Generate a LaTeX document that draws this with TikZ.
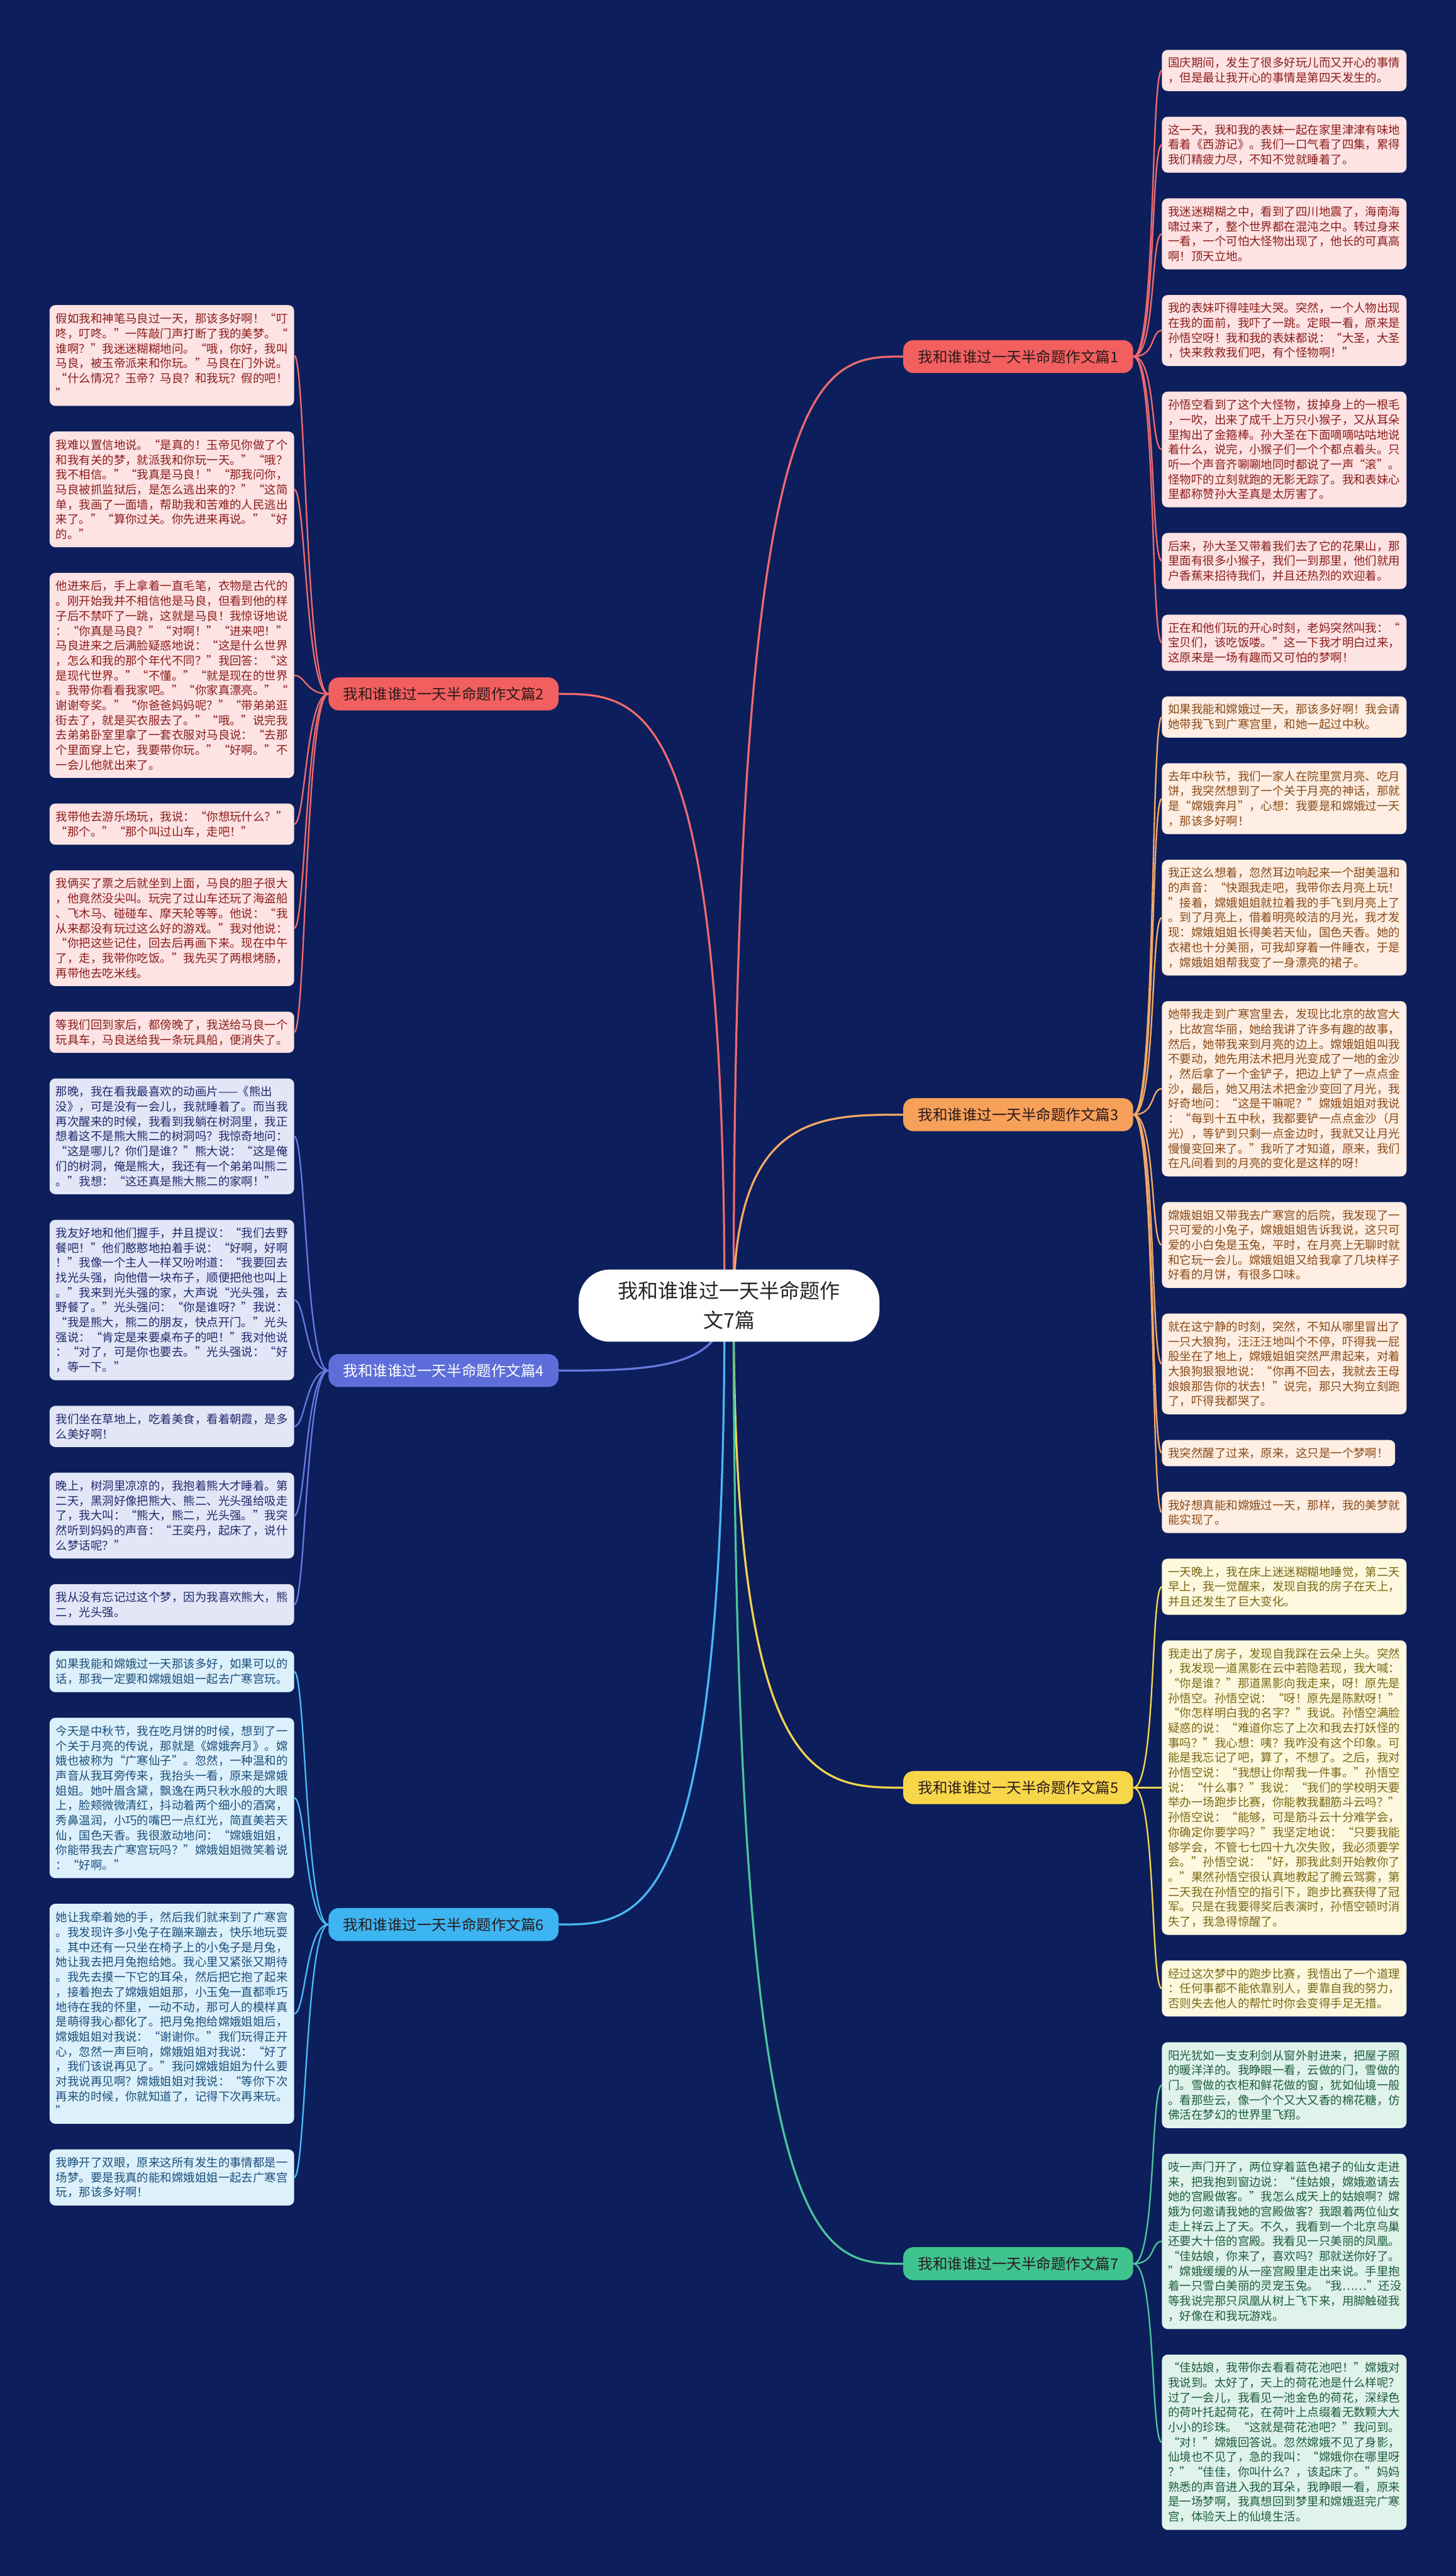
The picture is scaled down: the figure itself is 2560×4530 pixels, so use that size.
\documentclass[tikz,border=0pt]{standalone}
\usepackage{fontspec}
\newfontfamily\cjk{Noto Sans CJK SC}
\usetikzlibrary{calc}
\definecolor{bg}{HTML}{0C1E5B}
\definecolor{redlab}{HTML}{F25F5F}
\definecolor{redleaf}{HTML}{FDE3E3}
\definecolor{redtxt}{HTML}{8C1C1C}
\definecolor{redln}{HTML}{EE6A6E}
\definecolor{orlab}{HTML}{F7A05A}
\definecolor{orleaf}{HTML}{FEEEE3}
\definecolor{ortxt}{HTML}{8A4A17}
\definecolor{orln}{HTML}{F4A867}
\definecolor{yelab}{HTML}{F8D64A}
\definecolor{yeleaf}{HTML}{FEF8DE}
\definecolor{yetxt}{HTML}{7A6814}
\definecolor{yeln}{HTML}{F4D550}
\definecolor{grlab}{HTML}{3FC48F}
\definecolor{grleaf}{HTML}{DFF3EB}
\definecolor{grtxt}{HTML}{1E5B40}
\definecolor{grln}{HTML}{4BC59B}
\definecolor{inlab}{HTML}{5D6DD9}
\definecolor{inleaf}{HTML}{E3E6F7}
\definecolor{intxt}{HTML}{1F2A6C}
\definecolor{inln}{HTML}{6878E0}
\definecolor{bllab}{HTML}{3DB5F2}
\definecolor{blleaf}{HTML}{DDF1FC}
\definecolor{bltxt}{HTML}{1B4E7B}
\definecolor{blln}{HTML}{4AB9F3}
\definecolor{labtxt}{HTML}{2A1A1A}
\begin{document}
\begin{tikzpicture}[x=1pt,y=-1pt,
  leaf/.style={rounded corners=10pt, inner xsep=11pt, inner ysep=0pt, text width=408pt, align=left,
    font={\cjk\fontsize{20.4}{26.2}\selectfont}, anchor=north west},
  nl/.style={minimum height=26.2*#1+20},
  redbox/.style={leaf, fill=redleaf, text=redtxt},
  orbox/.style={leaf, fill=orleaf, text=ortxt},
  yebox/.style={leaf, fill=yeleaf, text=yetxt},
  grbox/.style={leaf, fill=grleaf, text=grtxt},
  inbox/.style={leaf, fill=inleaf, text=intxt},
  blbox/.style={leaf, fill=blleaf, text=bltxt},
  blabel/.style={rounded corners=18pt, inner xsep=26pt, inner ysep=0pt, minimum height=58pt,
    font={\cjk\fontsize{26}{30}\selectfont}},
  twig/.style={line width=2.6pt},
  limb/.style={line width=3.6pt},
  ctrnode/.style={fill=white, rounded corners=55pt, minimum width=529pt, minimum height=127pt,
    align=center, text=black!85, font={\cjk\fontsize{35.5}{52}\selectfont}, inner sep=0pt}
]
\fill[bg] (0,0) rectangle (2560,4530);
\useasboundingbox (0,0) rectangle (2560,4530);
\def\gap{-44.7pt}
% ---------- right column ----------
\node[redbox, nl=2] (l11) at (2043,87.5) {国庆期间，发生了很多好玩儿而又开心的事情\\，但是最让我开心的事情是第四天发生的。};
\node[redbox, nl=3] (l12) at ([yshift=\gap]l11.south west) {这一天，我和我的表妹一起在家里津津有味地\\看着《西游记》。我们一口气看了四集，累得\\我们精疲力尽，不知不觉就睡着了。};
\node[redbox, nl=4] (l13) at ([yshift=\gap]l12.south west) {我迷迷糊糊之中，看到了四川地震了，海南海\\啸过来了，整个世界都在混沌之中。转过身来\\一看，一个可怕大怪物出现了，他长的可真高\\啊！顶天立地。};
\node[redbox, nl=4] (l14) at ([yshift=\gap]l13.south west) {我的表妹吓得哇哇大哭。突然，一个人物出现\\在我的面前，我吓了一跳。定眼一看，原来是\\孙悟空呀！我和我的表妹都说：“大圣，大圣\\，快来救救我们吧，有个怪物啊！”};
\node[redbox, nl=7] (l15) at ([yshift=\gap]l14.south west) {孙悟空看到了这个大怪物，拔掉身上的一根毛\\，一吹，出来了成千上万只小猴子，又从耳朵\\里掏出了金箍棒。孙大圣在下面嘀嘀咕咕地说\\着什么，说完，小猴子们一个个都点着头。只\\听一个声音齐唰唰地同时都说了一声“滚”。\\怪物吓的立刻就跑的无影无踪了。我和表妹心\\里都称赞孙大圣真是太厉害了。};
\node[redbox, nl=3] (l16) at ([yshift=\gap]l15.south west) {后来，孙大圣又带着我们去了它的花果山，那\\里面有很多小猴子，我们一到那里，他们就用\\户香蕉来招待我们，并且还热烈的欢迎着。};
\node[redbox, nl=3] (l17) at ([yshift=\gap]l16.south west) {正在和他们玩的开心时刻，老妈突然叫我：“\\宝贝们，该吃饭喽。”这一下我才明白过来，\\这原来是一场有趣而又可怕的梦啊！};
\node[orbox, nl=2] (l31) at ([yshift=\gap]l17.south west) {如果我能和嫦娥过一天，那该多好啊！我会请\\她带我飞到广寒宫里，和她一起过中秋。};
\node[orbox, nl=4] (l32) at ([yshift=\gap]l31.south west) {去年中秋节，我们一家人在院里赏月亮、吃月\\饼，我突然想到了一个关于月亮的神话，那就\\是“嫦娥奔月”，心想：我要是和嫦娥过一天\\，那该多好啊！};
\node[orbox, nl=7] (l33) at ([yshift=\gap]l32.south west) {我正这么想着，忽然耳边响起来一个甜美温和\\的声音：“快跟我走吧，我带你去月亮上玩！\\”接着，嫦娥姐姐就拉着我的手飞到月亮上了\\。到了月亮上，借着明亮皎洁的月光，我才发\\现：嫦娥姐姐长得美若天仙，国色天香。她的\\衣裙也十分美丽，可我却穿着一件睡衣，于是\\，嫦娥姐姐帮我变了一身漂亮的裙子。};
\node[orbox, nl=11] (l34) at ([yshift=\gap]l33.south west) {她带我走到广寒宫里去，发现比北京的故宫大\\，比故宫华丽，她给我讲了许多有趣的故事，\\然后，她带我来到月亮的边上。嫦娥姐姐叫我\\不要动，她先用法术把月光变成了一地的金沙\\，然后拿了一个金铲子，把边上铲了一点点金\\沙，最后，她又用法术把金沙变回了月光，我\\好奇地问：“这是干嘛呢？”嫦娥姐姐对我说\\：“每到十五中秋，我都要铲一点点金沙（月\\光），等铲到只剩一点金边时，我就又让月光\\慢慢变回来了。”我听了才知道，原来，我们\\在凡间看到的月亮的变化是这样的呀！};
\node[orbox, nl=5] (l35) at ([yshift=\gap]l34.south west) {嫦娥姐姐又带我去广寒宫的后院，我发现了一\\只可爱的小兔子，嫦娥姐姐告诉我说，这只可\\爱的小白兔是玉兔，平时，在月亮上无聊时就\\和它玩一会儿。嫦娥姐姐又给我拿了几块样子\\好看的月饼，有很多口味。};
\node[orbox, nl=6] (l36) at ([yshift=\gap]l35.south west) {就在这宁静的时刻，突然，不知从哪里冒出了\\一只大狼狗，汪汪汪地叫个不停，吓得我一屁\\股坐在了地上，嫦娥姐姐突然严肃起来，对着\\大狼狗狠狠地说：“你再不回去，我就去王母\\娘娘那告你的状去！”说完，那只大狗立刻跑\\了，吓得我都哭了。};
\node[orbox, nl=1, text width=388pt] (l37) at ([yshift=\gap]l36.south west) {我突然醒了过来，原来，这只是一个梦啊！};
\node[orbox, nl=2] (l38) at ([yshift=\gap]l37.south west) {我好想真能和嫦娥过一天，那样，我的美梦就\\能实现了。};
\node[yebox, nl=3] (l51) at ([yshift=\gap]l38.south west) {一天晚上，我在床上迷迷糊糊地睡觉，第二天\\早上，我一觉醒来，发现自我的房子在天上，\\并且还发生了巨大变化。};
\node[yebox, nl=19] (l52) at ([yshift=\gap]l51.south west) {我走出了房子，发现自我踩在云朵上头。突然\\，我发现一道黑影在云中若隐若现，我大喊：\\“你是谁？”那道黑影向我走来，呀！原先是\\孙悟空。孙悟空说：“呀！原先是陈默呀！”\\“你怎样明白我的名字？”我说。孙悟空满脸\\疑惑的说：“难道你忘了上次和我去打妖怪的\\事吗？”我心想：咦？我咋没有这个印象。可\\能是我忘记了吧，算了，不想了。之后，我对\\孙悟空说：“我想让你帮我一件事。”孙悟空\\说：“什么事？”我说：“我们的学校明天要\\举办一场跑步比赛，你能教我翻筋斗云吗？”\\孙悟空说：“能够，可是筋斗云十分难学会，\\你确定你要学吗？”我坚定地说：“只要我能\\够学会，不管七七四十九次失败，我必须要学\\会。”孙悟空说：“好，那我此刻开始教你了\\。”果然孙悟空很认真地教起了腾云驾雾，第\\二天我在孙悟空的指引下，跑步比赛获得了冠\\军。只是在我要得奖后表演时，孙悟空顿时消\\失了，我急得惊醒了。};
\node[yebox, nl=3] (l53) at ([yshift=\gap]l52.south west) {经过这次梦中的跑步比赛，我悟出了一个道理\\：任何事都不能依靠别人，要靠自我的努力，\\否则失去他人的帮忙时你会变得手足无措。};
\node[grbox, nl=5] (l71) at ([yshift=\gap]l53.south west) {阳光犹如一支支利剑从窗外射进来，把屋子照\\的暖洋洋的。我睁眼一看，云做的门，雪做的\\门。雪做的衣柜和鲜花做的窗，犹如仙境一般\\。看那些云，像一个个又大又香的棉花糖，仿\\佛活在梦幻的世界里飞翔。};
\node[grbox, nl=11] (l72) at ([yshift=\gap]l71.south west) {吱一声门开了，两位穿着蓝色裙子的仙女走进\\来，把我抱到窗边说：“佳姑娘，嫦娥邀请去\\她的宫殿做客。”我怎么成天上的姑娘啊？嫦\\娥为何邀请我她的宫殿做客？我跟着两位仙女\\走上祥云上了天。不久，我看到一个北京鸟巢\\还要大十倍的宫殿。我看见一只美丽的凤凰。\\“佳姑娘，你来了，喜欢吗？那就送你好了。\\”嫦娥缓缓的从一座宫殿里走出来说。手里抱\\着一只雪白美丽的灵宠玉兔。“我……”还没\\等我说完那只凤凰从树上飞下来，用脚触碰我\\，好像在和我玩游戏。};
\node[grbox, nl=11] (l73) at ([yshift=\gap]l72.south west) {“佳姑娘，我带你去看看荷花池吧！”嫦娥对\\我说到。太好了，天上的荷花池是什么样呢？\\过了一会儿，我看见一池金色的荷花，深绿色\\的荷叶托起荷花，在荷叶上点缀着无数颗大大\\小小的珍珠。“这就是荷花池吧？”我问到。\\“对！”嫦娥回答说。忽然嫦娥不见了身影，\\仙境也不见了，急的我叫：“嫦娥你在哪里呀\\？”“佳佳，你叫什么？，该起床了。”妈妈\\熟悉的声音进入我的耳朵，我睁眼一看，原来\\是一场梦啊，我真想回到梦里和嫦娥逛完广寒\\宫，体验天上的仙境生活。};
% ---------- left column ----------
\node[redbox, nl=6] (l21) at (87,536.4) {假如我和神笔马良过一天，那该多好啊！“叮\\咚，叮咚。”一阵敲门声打断了我的美梦。“\\谁啊？”我迷迷糊糊地问。“哦，你好，我叫\\马良，被玉帝派来和你玩。”马良在门外说。\\“什么情况？玉帝？马良？和我玩？假的吧！\\”};
\node[redbox, nl=7] (l22) at ([yshift=\gap]l21.south west) {我难以置信地说。“是真的！玉帝见你做了个\\和我有关的梦，就派我和你玩一天。”“哦？\\我不相信。”“我真是马良！”“那我问你，\\马良被抓监狱后，是怎么逃出来的？”“这简\\单，我画了一面墙，帮助我和苦难的人民逃出\\来了。”“算你过关。你先进来再说。”“好\\的。”};
\node[redbox, nl=13] (l23) at ([yshift=\gap]l22.south west) {他进来后，手上拿着一直毛笔，衣物是古代的\\。刚开始我并不相信他是马良，但看到他的样\\子后不禁吓了一跳，这就是马良！我惊讶地说\\：“你真是马良？”“对啊！”“进来吧！”\\马良进来之后满脸疑惑地说：“这是什么世界\\，怎么和我的那个年代不同？”我回答：“这\\是现代世界。”“不懂。”“就是现在的世界\\。我带你看看我家吧。”“你家真漂亮。”“\\谢谢夸奖。”“你爸爸妈妈呢？”“带弟弟逛\\街去了，就是买衣服去了。”“哦。”说完我\\去弟弟卧室里拿了一套衣服对马良说：“去那\\个里面穿上它，我要带你玩。”“好啊。”不\\一会儿他就出来了。};
\node[redbox, nl=2] (l24) at ([yshift=\gap]l23.south west) {我带他去游乐场玩，我说：“你想玩什么？”\\“那个。”“那个叫过山车，走吧！”};
\node[redbox, nl=7] (l25) at ([yshift=\gap]l24.south west) {我俩买了票之后就坐到上面，马良的胆子很大\\，他竟然没尖叫。玩完了过山车还玩了海盗船\\、飞木马、碰碰车、摩天轮等等。他说：“我\\从来都没有玩过这么好的游戏。”我对他说：\\“你把这些记住，回去后再画下来。现在中午\\了，走，我带你吃饭。”我先买了两根烤肠，\\再带他去吃米线。};
\node[redbox, nl=2] (l26) at ([yshift=\gap]l25.south west) {等我们回到家后，都傍晚了，我送给马良一个\\玩具车，马良送给我一条玩具船，便消失了。};
\node[inbox, nl=7] (l41) at ([yshift=\gap]l26.south west) {那晚，我在看我最喜欢的动画片——《熊出\\没》，可是没有一会儿，我就睡着了。而当我\\再次醒来的时候，我看到我躺在树洞里，我正\\想着这不是熊大熊二的树洞吗？我惊奇地问：\\“这是哪儿？你们是谁？”熊大说：“这是俺\\们的树洞，俺是熊大，我还有一个弟弟叫熊二\\。”我想：“这还真是熊大熊二的家啊！”};
\node[inbox, nl=10] (l42) at ([yshift=\gap]l41.south west) {我友好地和他们握手，并且提议：“我们去野\\餐吧！”他们憨憨地拍着手说：“好啊，好啊\\！”我像一个主人一样又吩咐道：“我要回去\\找光头强，向他借一块布子，顺便把他也叫上\\。”我来到光头强的家，大声说“光头强，去\\野餐了。”光头强问：“你是谁呀？”我说：\\“我是熊大，熊二的朋友，快点开门。”光头\\强说：“肯定是来要桌布子的吧！”我对他说\\：“对了，可是你也要去。”光头强说：“好\\，等一下。”};
\node[inbox, nl=2] (l43) at ([yshift=\gap]l42.south west) {我们坐在草地上，吃着美食，看着朝霞，是多\\么美好啊！};
\node[inbox, nl=5] (l44) at ([yshift=\gap]l43.south west) {晚上，树洞里凉凉的，我抱着熊大才睡着。第\\二天，黑洞好像把熊大、熊二、光头强给吸走\\了，我大叫：“熊大，熊二，光头强。”我突\\然听到妈妈的声音：“王奕丹，起床了，说什\\么梦话呢？”};
\node[inbox, nl=2] (l45) at ([yshift=\gap]l44.south west) {我从没有忘记过这个梦，因为我喜欢熊大，熊\\二，光头强。};
\node[blbox, nl=2] (l61) at ([yshift=\gap]l45.south west) {如果我能和嫦娥过一天那该多好，如果可以的\\话，那我一定要和嫦娥姐姐一起去广寒宫玩。};
\node[blbox, nl=10] (l62) at ([yshift=\gap]l61.south west) {今天是中秋节，我在吃月饼的时候，想到了一\\个关于月亮的传说，那就是《嫦娥奔月》。嫦\\娥也被称为“广寒仙子”。忽然，一种温和的\\声音从我耳旁传来，我抬头一看，原来是嫦娥\\姐姐。她叶眉含黛，飘逸在两只秋水般的大眼\\上，脸颊微微清红，抖动着两个细小的酒窝，\\秀鼻温润，小巧的嘴巴一点红光，简直美若天\\仙，国色天香。我很激动地问：“嫦娥姐姐，\\你能带我去广寒宫玩吗？”嫦娥姐姐微笑着说\\：“好啊。”};
\node[blbox, nl=14] (l63) at ([yshift=\gap]l62.south west) {她让我牵着她的手，然后我们就来到了广寒宫\\。我发现许多小兔子在蹦来蹦去，快乐地玩耍\\。其中还有一只坐在椅子上的小兔子是月兔，\\她让我去把月兔抱给她。我心里又紧张又期待\\。我先去摸一下它的耳朵，然后把它抱了起来\\，接着抱去了嫦娥姐姐那，小玉兔一直都乖巧\\地待在我的怀里，一动不动，那可人的模样真\\是萌得我心都化了。把月兔抱给嫦娥姐姐后，\\嫦娥姐姐对我说：“谢谢你。”我们玩得正开\\心，忽然一声巨响，嫦娥姐姐对我说：“好了\\，我们该说再见了。”我问嫦娥姐姐为什么要\\对我说再见啊？嫦娥姐姐对我说：“等你下次\\再来的时候，你就知道了，记得下次再来玩。\\”};
\node[blbox, nl=3] (l64) at ([yshift=\gap]l63.south west) {我睁开了双眼，原来这所有发生的事情都是一\\场梦。要是我真的能和嫦娥姐姐一起去广寒宫\\玩，那该多好啊！};
% ---------- branch labels ----------
\node[blabel, anchor=west, fill=redlab, text=labtxt] (b1) at ($(l11.west)!0.5!(l17.west)+(-455,0)$) {我和谁谁过一天半命题作文篇1};
\node[blabel, anchor=west, fill=orlab, text=labtxt] (b3) at ($(l31.west)!0.5!(l38.west)+(-455,0)$) {我和谁谁过一天半命题作文篇3};
\node[blabel, anchor=west, fill=yelab, text=labtxt] (b5) at ($(l51.west)!0.5!(l53.west)+(-455,0)$) {我和谁谁过一天半命题作文篇5};
\node[blabel, anchor=west, fill=grlab, text=labtxt] (b7) at ($(l71.west)!0.5!(l73.west)+(-455,0)$) {我和谁谁过一天半命题作文篇7};
\node[blabel, anchor=east, fill=redlab, text=labtxt] (b2) at ($(l21.east)!0.5!(l26.east)+(465,0)$) {我和谁谁过一天半命题作文篇2};
\node[blabel, anchor=east, fill=inlab, text=white] (b4) at ($(l41.east)!0.5!(l45.east)+(465,0)$) {我和谁谁过一天半命题作文篇4};
\node[blabel, anchor=east, fill=bllab, text=labtxt] (b6) at ($(l61.east)!0.5!(l64.east)+(465,0)$) {我和谁谁过一天半命题作文篇6};
% ---------- twigs ----------
\foreach \l in {l11,l12,l13,l14,l15,l16,l17}
  \draw[twig, redln] (b1.east) .. controls ($(b1.east)+(40,0)$) and ($(\l.west)+(-20,0)$) .. (\l.west);
\foreach \l in {l31,l32,l33,l34,l35,l36,l37,l38}
  \draw[twig, orln] (b3.east) .. controls ($(b3.east)+(40,0)$) and ($(\l.west)+(-20,0)$) .. (\l.west);
\foreach \l in {l51,l52,l53}
  \draw[twig, yeln] (b5.east) .. controls ($(b5.east)+(40,0)$) and ($(\l.west)+(-20,0)$) .. (\l.west);
\foreach \l in {l71,l72,l73}
  \draw[twig, grln] (b7.east) .. controls ($(b7.east)+(40,0)$) and ($(\l.west)+(-20,0)$) .. (\l.west);
\foreach \l in {l21,l22,l23,l24,l25,l26}
  \draw[twig, redln] (b2.west) .. controls ($(b2.west)+(-40,0)$) and ($(\l.east)+(20,0)$) .. (\l.east);
\foreach \l in {l41,l42,l43,l44,l45}
  \draw[twig, inln] (b4.west) .. controls ($(b4.west)+(-40,0)$) and ($(\l.east)+(20,0)$) .. (\l.east);
\foreach \l in {l61,l62,l63,l64}
  \draw[twig, blln] (b6.west) .. controls ($(b6.west)+(-40,0)$) and ($(\l.east)+(20,0)$) .. (\l.east);
% ---------- limbs ----------
\coordinate (cR) at (1290,2296);
\coordinate (cL) at (1274,2296);
\foreach \b/\c in {b1/redln,b3/orln,b5/yeln,b7/grln}
  \draw[limb, \c] (cR) .. controls (cR |- \b.west) and ($(cR |- \b.west)!0.5!(\b.west)$) .. (\b.west);
\foreach \b/\c in {b2/redln,b4/inln,b6/blln}
  \draw[limb, \c] (cL) .. controls (cL |- \b.east) and ($(cL |- \b.east)!0.5!(\b.east)$) .. (\b.east);
% ---------- centre ----------
\node[ctrnode] (ctr) at (1282,2296) {我和谁谁过一天半命题作\\文7篇};
\end{tikzpicture}
\end{document}
